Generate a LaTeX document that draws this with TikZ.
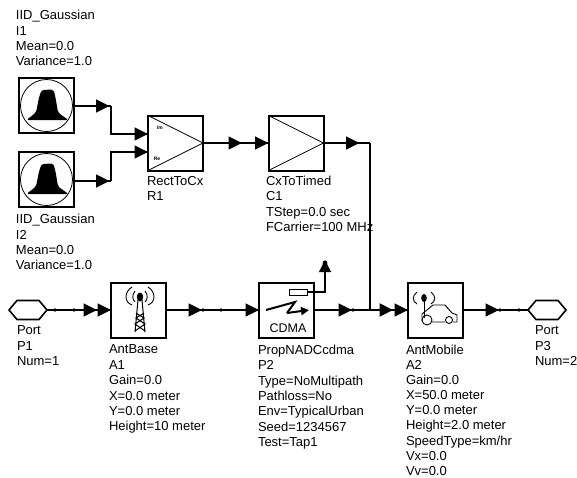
\documentclass[tikz,border=0pt]{standalone}
\usepackage{fontspec}
\setmainfont{Liberation Sans}
\usepackage{tikz}
\usetikzlibrary{arrows.meta,decorations.markings,shapes.symbols}

\begin{document}
\begin{tikzpicture}[
  x=1pt, y=-1pt,
  block/.style={draw, line width=2pt, minimum size=55pt, inner sep=0pt, outer sep=0pt},
  port/.style={draw, line width=1.6pt, signal, signal to=west and east, signal pointer angle=100,
    minimum width=38pt, minimum height=19pt, inner sep=0pt, outer sep=0pt},
  label/.style={anchor=north west, align=left, inner sep=0pt, outer sep=0pt,
    font=\fontsize{13}{15.35}\selectfont},
  wire/.style={line width=1.2pt},
  bus/.style={line width=2.1pt},
  thin icon/.style={line width=0.8pt},
  headtip/.style={-{Triangle[length=13.5pt,width=13pt]}},
  headat/.style={postaction={decorate, decoration={markings,
    mark=at position #1 with {\arrow{Triangle[length=13.5pt,width=13pt]}}}}},
  dotat/.style={postaction={decorate, decoration={markings,
    mark=at position #1 with {\fill circle[radius=1.9pt];}}}}
]
\path[use as bounding box] (0,0) rectangle (577,477);

% Sources and converters along the top.
\node[block] (I1) at (46,105.5) {};
\node[block] (I2) at (46,179.5) {};
\node[block] (R1) at (175.5,143) {};
\node[block] (C1) at (296,143) {};
\foreach \g in {I1,I2} {
  \begin{scope}[shift={(\g.center)}]
    \draw[thin icon] (0.5,0) circle[radius=26pt];
    \fill[rounded corners=2pt] (-19.5,14.5) -- (-10,7) -- (-7,-8) -- (-4.5,-15.5) -- (7.5,-16)
      -- (9.5,-8) -- (12,7) -- (22.5,14.5) -- cycle;
  \end{scope}
}
\draw[thin icon] (R1.north west) -- (R1.east) -- (R1.south west);
\draw[thin icon] (C1.north west) -- (C1.east) -- (C1.south west);
\node[inner sep=0pt, font=\bfseries\fontsize{5}{5}\selectfont] (R1im) at (160,128) {Im};
\node[inner sep=0pt, font=\bfseries\fontsize{5}{5}\selectfont] (R1re) at (157,159) {Re};

% Bottom row.
\node[port] (P1) at (28,310) {};
\node[block] (A1) at (138.5,310) {};
\node[block] (P2) at (286.5,310) {};
\node[block] (A2) at (435.5,310) {};
\node[port] (P3) at (547,310) {};

% Tower inside A1.
\draw[line width=0.9pt] (132,287) .. controls (124,292) and (124,302) .. (132,305);
\draw[line width=0.9pt] (148,287) .. controls (156,292) and (156,302) .. (148,305);
\draw[line width=0.9pt] (135,291) .. controls (132,295) and (132,299) .. (135,302);
\draw[line width=0.9pt] (145,291) .. controls (148,295) and (148,299) .. (145,302);
\fill (140,297) ellipse[x radius=3.2pt, y radius=4.5pt];
\draw[line width=1pt] (138,300) -- (135,332) (142,300) -- (145,332)
  (136,313) -- (144,318) -- (135,324) -- (145,331) (144,313) -- (136,318) -- (145,324) -- (135,331);

% Radio link inside P2.
\draw[line width=2pt] (266,310) -- (295,302) -- (287,313);
\draw[line width=2pt, -{Triangle[length=8pt,width=8pt]}] (287,313) -- (309,310);
\node[inner sep=0pt, font=\fontsize{12.5}{12}\selectfont] (P2text) at (288,328) {CDMA};
\node[draw, line width=0.8pt, minimum width=18pt, minimum height=6pt, inner sep=0pt, outer sep=0pt] (tap) at (298,292) {};
\coordinate (tapend) at (325,263);
\draw[line width=1.1pt, -{Triangle[length=12pt,width=12pt]}] (tap.east) -| ([yshift=3pt]tapend);
\fill (tapend) circle[radius=2.4pt];

% Car inside A2.
\draw[line width=0.9pt] (417,292) .. controls (412,296) and (412,301) .. (417,304);
\draw[line width=0.9pt] (431,292) .. controls (436,296) and (436,301) .. (431,304);
\fill (424,298) ellipse[x radius=2.8pt, y radius=4pt];
\draw[line width=0.9pt] (424,300) -- (424,318);
\draw[line width=0.9pt] (422,321) -- (422,314) -- (433,305) -- (445,305) -- (452,313)
  -- (457,315) -- (457,322) -- (453,322) (445,322) -- (432,322);
\draw[line width=0.9pt] (427,320) circle[radius=5pt];
\draw[line width=0.9pt] (449,320) circle[radius=3.5pt];

% Labels.
\node[label] (I1text) at (16,10.5) {IID\_Gaussian\\I1\\Mean=0.0\\Variance=1.0};
\node[label] (I2text) at (16,214.5) {IID\_Gaussian\\I2\\Mean=0.0\\Variance=1.0};
\node[label] (R1text) at (147,176) {RectToCx\\R1};
\node[label] (C1text) at (266,176) {CxToTimed\\C1\\TStep=0.0 sec\\FCarrier=100 MHz};
\node[label] (P1text) at (17,326) {Port\\P1\\Num=1};
\node[label] (A1text) at (109,345) {AntBase\\A1\\Gain=0.0\\X=0.0 meter\\Y=0.0 meter\\Height=10 meter};
\node[label] (P2text2) at (258,345) {PropNADCcdma\\P2\\Type=NoMultipath\\Pathloss=No\\Env=TypicalUrban\\Seed=1234567\\Test=Tap1};
\node[label, font=\fontsize{13}{15.1}\selectfont] (A2text) at (406,345) {AntMobile\\A2\\Gain=0.0\\X=50.0 meter\\Y=0.0 meter\\Height=2.0 meter\\SpeedType=km/hr\\Vx=0.0\\Vv=0.0};
\node[label] (P3text) at (535,326) {Port\\P3\\Num=2};

% Connectors, with their heads along the way.
\coordinate (imin) at (R1.west |- 0,134);
\coordinate (rein) at (R1.west |- 0,152);
\coordinate (turnA) at (111,106);
\coordinate (turnB) at (111,181);
\coordinate (turnC) at (370,143);
\coordinate (join) at (370,310);
\draw[wire, headat=36pt] (I1.east |- turnA) -- (turnA);
\draw[wire, headat=36pt] (I2.east |- turnB) -- (turnB);
\draw[bus] (turnA) |- (imin);
\draw[bus] (turnB) |- (rein);
\draw[wire, headat=39pt] (R1.east) -- (C1.west);
\draw[wire, headat=36pt] (C1.east) -- (turnC);
\draw[bus] (turnC) -- (join);
\draw[wire, dotat=8pt, dotat=27pt, headat=50pt] (P1.east) -- (A1.west);
\draw[wire, headat=36pt, dotat=37pt, dotat=55pt] (A1.east) -- (P2.west);
\draw[wire, headat=38pt, dotat=39pt] (P2.east) -- (join);
\draw[bus, headat=23pt] (join) -- (A2.west);
\draw[wire, headat=36pt, dotat=37pt, dotat=56pt] (A2.east) -- (P3.west);
% Heads right at the block inputs.
\draw[wire, headtip] ([xshift=-13pt]imin) -- (imin);
\draw[wire, headtip] ([xshift=-13pt]rein) -- (rein);
\draw[wire, headtip] ([xshift=-13pt]C1.west) -- (C1.west);
\draw[wire, headtip] ([xshift=-13pt]A1.west) -- (A1.west);
\draw[wire, headtip] ([xshift=-13pt]P2.west) -- (P2.west);
\draw[wire, headtip] ([xshift=-13pt]A2.west) -- (A2.west);
\end{tikzpicture}
\end{document}
